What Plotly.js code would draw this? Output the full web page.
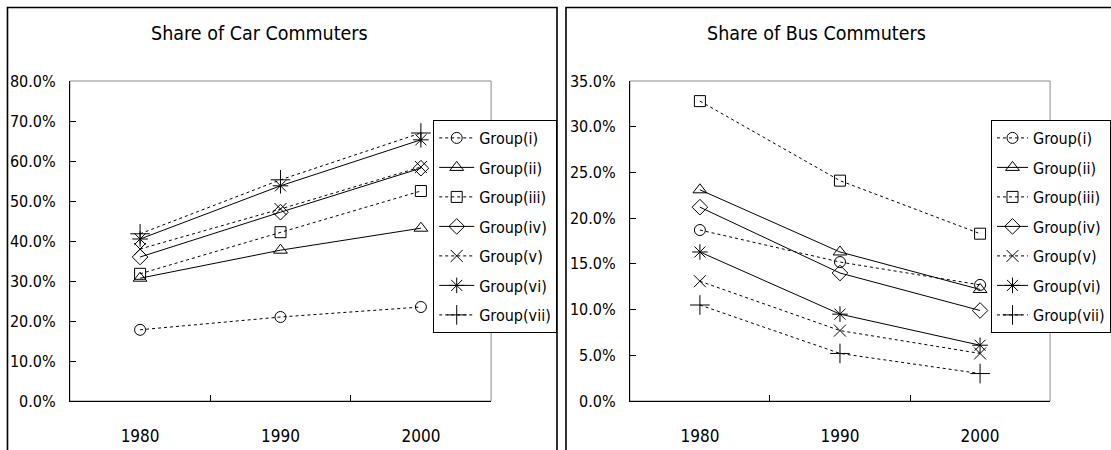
<!DOCTYPE html>
<html>
<head>
<meta charset="utf-8">
<script src="https://cdn.plot.ly/plotly-3.0.1.min.js"></script>
<style>
html,body{margin:0;padding:0;background:#fff;}
#chart{width:1111px;height:450px;}
</style>
</head>
<body>
<div id="chart"></div>
<script>
// ---- data ----
const years = ['1980', '1990', '2000'];
const groupNames = ['Group(i)', 'Group(ii)', 'Group(iii)', 'Group(iv)', 'Group(v)', 'Group(vi)', 'Group(vii)'];

// Share of Car Commuters (%)
const carI   = [17.8, 21.0, 23.5];
const carII  = [30.7, 37.7, 43.2];
const carIII = [31.8, 42.2, 52.5];
const carIV  = [36.0, 47.2, 58.2];
const carV   = [38.0, 48.0, 58.5];
const carVI  = [40.5, 53.8, 65.3];
const carVII = [41.8, 55.3, 67.0];

// Share of Bus Commuters (%)
const busI   = [18.7, 15.2, 12.7];
const busII  = [23.1, 16.3, 12.2];
const busIII = [32.8, 24.1, 18.3];
const busIV  = [21.2, 14.0, 9.9];
const busV   = [13.1, 7.7, 5.2];
const busVI  = [16.3, 9.5, 6.1];
const busVII = [10.5, 5.2, 3.0];

const carTitle = 'Share of Car Commuters';
const busTitle = 'Share of Bus Commuters';
const carTicks = [0, 10, 20, 30, 40, 50, 60, 70, 80];
const busTicks = [0, 5, 10, 15, 20, 25, 30, 35];
const carTickText = ['0.0%', '10.0%', '20.0%', '30.0%', '40.0%', '50.0%', '60.0%', '70.0%', '80.0%'];
const busTickText = ['0.0%', '5.0%', '10.0%', '15.0%', '20.0%', '25.0%', '30.0%', '35.0%'];

// ---- styling ----
const symbols = ['circle-open', 'triangle-up-open', 'square-open', 'diamond-open', 'x-thin-open', 'asterisk-open', 'cross-thin-open'];
const sizes = [11, 12, 11, 12, 12, 13, 14];
const dashes = ['dot', 'solid', 'dot', 'solid', 'dot', 'solid', 'dot'];
const FONT = '"DejaVu Sans Condensed", "Liberation Sans Narrow", "Arial Narrow", sans-serif';

const W = 1111, H = 450;
const px = v => v / W;
const py = v => 1 - v / H;

const carSeries = [carI, carII, carIII, carIV, carV, carVI, carVII];
const busSeries = [busI, busII, busIII, busIV, busV, busVI, busVII];

const traces = [];
function addTraces(series, xa, ya, legendName, groupPrefix) {
  series.forEach((vals, i) => {
    traces.push({
      type: 'scatter', mode: 'lines+markers',
      x: years, y: vals, name: groupNames[i],
      xaxis: xa, yaxis: ya, legend: legendName,
      legendgroup: groupPrefix + i,
      line: {color: '#000', width: 1, dash: dashes[i]},
      marker: {symbol: symbols[i], size: sizes[i], color: '#000', line: {color: '#000', width: 1}},
      cliponaxis: false
    });
  });
}
addTraces(carSeries, 'x', 'y', 'legend', 'c');
addTraces(busSeries, 'x2', 'y2', 'legend2', 'b');

const xCommon = {
  type: 'category', range: [-0.5, 2.5], tickson: 'boundaries',
  ticks: 'inside', ticklen: 6, tickcolor: '#000', tickwidth: 1,
  showline: true, linecolor: '#000', linewidth: 1,
  showgrid: false, zeroline: false, fixedrange: true,
  tickfont: {family: FONT, size: 17, color: '#000'},
  ticklabelstandoff: 20
};
const yCommon = {
  ticks: 'inside', ticklen: 6, tickcolor: '#000', tickwidth: 1,
  showline: true, linecolor: '#000', linewidth: 1,
  showgrid: false, zeroline: false, fixedrange: true,
  tickmode: 'array',
  tickfont: {family: FONT, size: 16, color: '#000'},
  ticklabelstandoff: 10
};

const legendCommon = {
  bgcolor: '#fff', bordercolor: '#000', borderwidth: 1,
  font: {family: FONT, size: 16, color: '#000'},
  traceorder: 'grouped', tracegroupgap: 5.7,
  xanchor: 'left', yanchor: 'top',
  itemclick: false, itemdoubleclick: false
};

const layout = {
  width: W, height: H,
  margin: {l: 0, r: 0, t: 0, b: 0},
  paper_bgcolor: '#fff', plot_bgcolor: '#fff',
  showlegend: true,
  xaxis: Object.assign({}, xCommon, {domain: [px(70), px(492)], anchor: 'y'}),
  yaxis: Object.assign({}, yCommon, {domain: [py(401), py(81)], range: [0, 80], tickvals: carTicks, ticktext: carTickText, anchor: 'x'}),
  xaxis2: Object.assign({}, xCommon, {domain: [px(631), px(1052)], anchor: 'y2'}),
  yaxis2: Object.assign({}, yCommon, {domain: [py(401), py(81)], range: [0, 35], tickvals: busTicks, ticktext: busTickText, anchor: 'x2'}),
  legend: Object.assign({}, legendCommon, {x: px(434), y: py(120), itemwidth: 35}),
  legend2: Object.assign({}, legendCommon, {x: px(993), y: py(120), itemwidth: 31}),
  shapes: [
    // plot area frames (grey)
    {type: 'rect', xref: 'x domain', yref: 'y domain', x0: 0, x1: 1, y0: 0, y1: 1, line: {color: '#8c8c8c', width: 1}, layer: 'below'},
    {type: 'rect', xref: 'x2 domain', yref: 'y2 domain', x0: 0, x1: 1, y0: 0, y1: 1, line: {color: '#8c8c8c', width: 1}, layer: 'below'},
    // chart panel borders
    {type: 'rect', xref: 'paper', yref: 'paper', x0: px(7.5), x1: px(558), y0: -0.2, y1: py(7.5), line: {color: '#000', width: 1.6}},
    {type: 'rect', xref: 'paper', yref: 'paper', x0: px(567), x1: 1.2, y0: -0.2, y1: py(7.5), line: {color: '#000', width: 1.6}}
  ],
  annotations: [
    {text: carTitle, xref: 'paper', yref: 'paper', x: px(260), y: py(33), xanchor: 'center', yanchor: 'middle', showarrow: false, font: {family: FONT, size: 19.5, color: '#000'}},
    {text: busTitle, xref: 'paper', yref: 'paper', x: px(818), y: py(33), xanchor: 'center', yanchor: 'middle', showarrow: false, font: {family: FONT, size: 19.5, color: '#000'}}
  ]
};

Plotly.newPlot('chart', traces, layout, {displayModeBar: false, staticPlot: true});
</script>
</body>
</html>
